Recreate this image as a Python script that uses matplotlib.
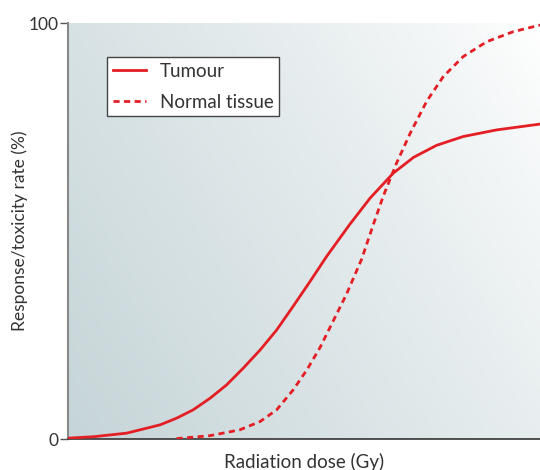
import numpy as np
import matplotlib
matplotlib.use("Agg")
import matplotlib.pyplot as plt
from matplotlib.colors import LinearSegmentedColormap

plt.rcParams['font.family'] = ['Lato', 'DejaVu Sans']

# Data (dose in % of axis, rate in %)
tumour_x = [0, 5.4, 12.4, 19.5, 23.0, 26.5, 30.1, 33.6, 37.1, 40.7, 44.2, 47.7, 51.3, 54.8,
            59.7, 64.0, 68.9, 73.2, 78.1, 83.7, 90.8, 100]
tumour_y = [0.2, 0.55, 1.4, 3.4, 5.0, 7.0, 9.8, 13.0, 17.0, 21.4, 26.2, 31.9, 37.9, 43.9,
            51.6, 57.9, 63.9, 67.7, 70.6, 72.7, 74.3, 75.7]
normal_x = [23.0, 30.1, 36.4, 40.7, 44.2, 47.7, 50.6, 53.4, 56.2, 59.0, 62.2, 64.7, 66.8,
            69.6, 72.5, 76.0, 79.5, 83.7, 88.7, 94.3, 100]
normal_y = [0.1, 0.8, 2.2, 4.2, 7.0, 11.8, 16.6, 22.0, 28.4, 34.8, 43.2, 51.6, 58.4,
            66.3, 73.5, 81.2, 87.1, 91.9, 95.5, 97.9, 99.5]
ytick_vals = [0, 100]
ytick_labels = ['0', '100']

red = '#e31e24'
txt = '#333333'

fig = plt.figure(figsize=(5.4, 4.7), dpi=100)
ax = fig.add_axes([68/540, 31/470, 472/540, 416/470])

# gradient background
nx, ny = 300, 300
gx, gy = np.meshgrid(np.linspace(0, 1, nx), np.linspace(0, 1, ny))
d = 0.65 * (1 - gx) + 0.35 * (1 - gy)
d = d ** 0.85
cmap = LinearSegmentedColormap.from_list('bg', ['#ffffff', '#c6d5d8'])
ax.imshow(d, extent=[0, 100, 0, 100], origin='lower', cmap=cmap, vmin=0, vmax=1,
          aspect='auto', zorder=0, interpolation='bilinear')

ax.plot(tumour_x, tumour_y, color=red, lw=2.0, solid_joinstyle='round', label='Tumour', zorder=3)
ax.plot(normal_x, normal_y, color=red, lw=2.0, ls=(0, (2.2, 1.6)), label='Normal tissue', zorder=3)

ax.set_xlim(0, 100)
ax.set_ylim(0, 100)
ax.set_xticks([])
ax.set_yticks(ytick_vals)
ax.set_yticklabels(ytick_labels, fontsize=12.5, color=txt)
ax.tick_params(axis='y', length=6, width=1, color='#555555', pad=1)

for s in ['top', 'right']:
    ax.spines[s].set_visible(False)
ax.spines['left'].set_color('#888888')
ax.spines['left'].set_linewidth(1.5)
ax.spines['bottom'].set_color('#333333')
ax.spines['bottom'].set_linewidth(1.2)

ax.set_xlabel('Radiation dose (Gy)', fontsize=13.5, color=txt, labelpad=10)
ax.set_ylabel('Response/toxicity rate (%)', fontsize=12.5, color=txt, labelpad=0)

leg = ax.legend(loc='upper left', bbox_to_anchor=(39/472, 1 - 34/416), fontsize=13.5,
                frameon=True, fancybox=False, handlelength=1.8, handletextpad=0.7,
                borderpad=0.3, labelspacing=0.75, borderaxespad=0)
leg.get_frame().set_edgecolor('#444444')
leg.get_frame().set_linewidth(1.0)
leg.get_frame().set_facecolor('white')
leg.get_frame().set_alpha(1)
for t in leg.get_texts():
    t.set_color(txt)

fig.savefig('out.png', dpi=100)
